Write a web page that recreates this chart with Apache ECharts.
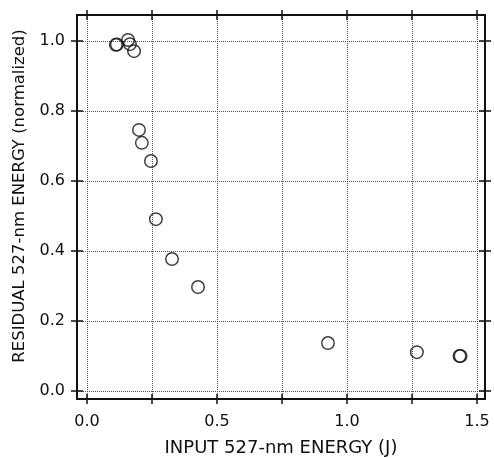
<!DOCTYPE html>
<html>
<head>
<meta charset="utf-8">
<script src="https://cdn.jsdelivr.net/npm/echarts@6/dist/echarts.min.js"></script>
<style>
  html, body { margin: 0; padding: 0; background: #fff; }
  #chart { width: 494px; height: 458px; }
</style>
</head>
<body>
<div id="chart"></div>
<script>
// input energy (J) and residual energy (normalized)
const inputEnergy = [0.111, 0.115, 0.158, 0.165, 0.181, 0.2, 0.211, 0.246, 0.265, 0.327, 0.427, 0.927, 1.269, 1.433, 1.437];
const residualEnergy = [0.989, 0.99, 1.003, 0.991, 0.971, 0.746, 0.709, 0.657, 0.491, 0.377, 0.297, 0.137, 0.111, 0.1, 0.1];

const xTicks = [0, 0.25, 0.5, 0.75, 1.0, 1.25, 1.5];
const xLabels = [0, 0.5, 1.0, 1.5];
const yTicks = [0, 0.2, 0.4, 0.6, 0.8, 1.0];

const chart = echarts.init(document.getElementById("chart"));

const font = "DejaVu Sans";
const ink = "#111";
const xMin = -0.0385, xMax = 1.531;
const yMin = -0.0229, yMax = 1.0743;

// one axis per side per tick direction so the ticks cross the frame
const makeX = (position, inside, main) => ({
  type: "value",
  position: position,
  min: xMin,
  max: xMax,
  axisLine: { show: !inside, onZero: false, lineStyle: { color: ink, width: 2 } },
  axisTick: {
    show: true,
    inside: inside,
    length: 5,
    customValues: xTicks,
    lineStyle: { color: ink, width: 1.5 },
  },
  axisLabel: main
    ? {
        show: true,
        customValues: xLabels,
        formatter: (v) => v.toFixed(1),
        margin: 15,
        color: ink,
        fontFamily: font,
        fontSize: 16,
      }
    : { show: false },
  splitLine: main
    ? { show: true, lineStyle: { type: "dotted", color: "#555", width: 1 } }
    : { show: false },
  name: main ? "INPUT 527-nm ENERGY (J)" : "",
  nameLocation: "middle",
  nameGap: 40,
  nameTextStyle: { color: ink, fontFamily: font, fontSize: 18 },
});

const makeY = (position, inside, main) => ({
  type: "value",
  position: position,
  min: yMin,
  max: yMax,
  axisLine: { show: !inside, onZero: false, lineStyle: { color: ink, width: 2 } },
  axisTick: {
    show: true,
    inside: inside,
    length: 6,
    customValues: yTicks,
    lineStyle: { color: ink, width: 1.5 },
  },
  axisLabel: main
    ? {
        show: true,
        customValues: yTicks,
        formatter: (v) => v.toFixed(1),
        margin: 12,
        color: ink,
        fontFamily: font,
        fontSize: 16,
      }
    : { show: false },
  splitLine: main
    ? { show: true, lineStyle: { type: "dotted", color: "#555", width: 1 } }
    : { show: false },
  name: main ? "RESIDUAL 527-nm ENERGY (normalized)" : "",
  nameLocation: "middle",
  nameGap: 48,
  nameTextStyle: { color: ink, fontFamily: font, fontSize: 16.5, padding: [0, 0, 0, 22] },
});

const option = {
  animation: false,
  backgroundColor: "#fff",
  grid: { left: 77, right: 9, top: 15, bottom: 59, containLabel: false, outerBoundsMode: "none" },
  xAxis: [
    makeX("bottom", false, true),
    makeX("bottom", true, false),
    makeX("top", false, false),
    makeX("top", true, false),
  ],
  yAxis: [
    makeY("left", false, true),
    makeY("left", true, false),
    makeY("right", false, false),
    makeY("right", true, false),
  ],
  series: [
    {
      type: "scatter",
      xAxisIndex: 0,
      yAxisIndex: 0,
      symbol: "circle",
      symbolSize: 12.5,
      itemStyle: { color: "transparent", borderColor: ink, borderWidth: 1.5 },
      data: inputEnergy.map((x, i) => [x, residualEnergy[i]]),
    },
  ],
};

chart.setOption(option);
</script>
</body>
</html>
